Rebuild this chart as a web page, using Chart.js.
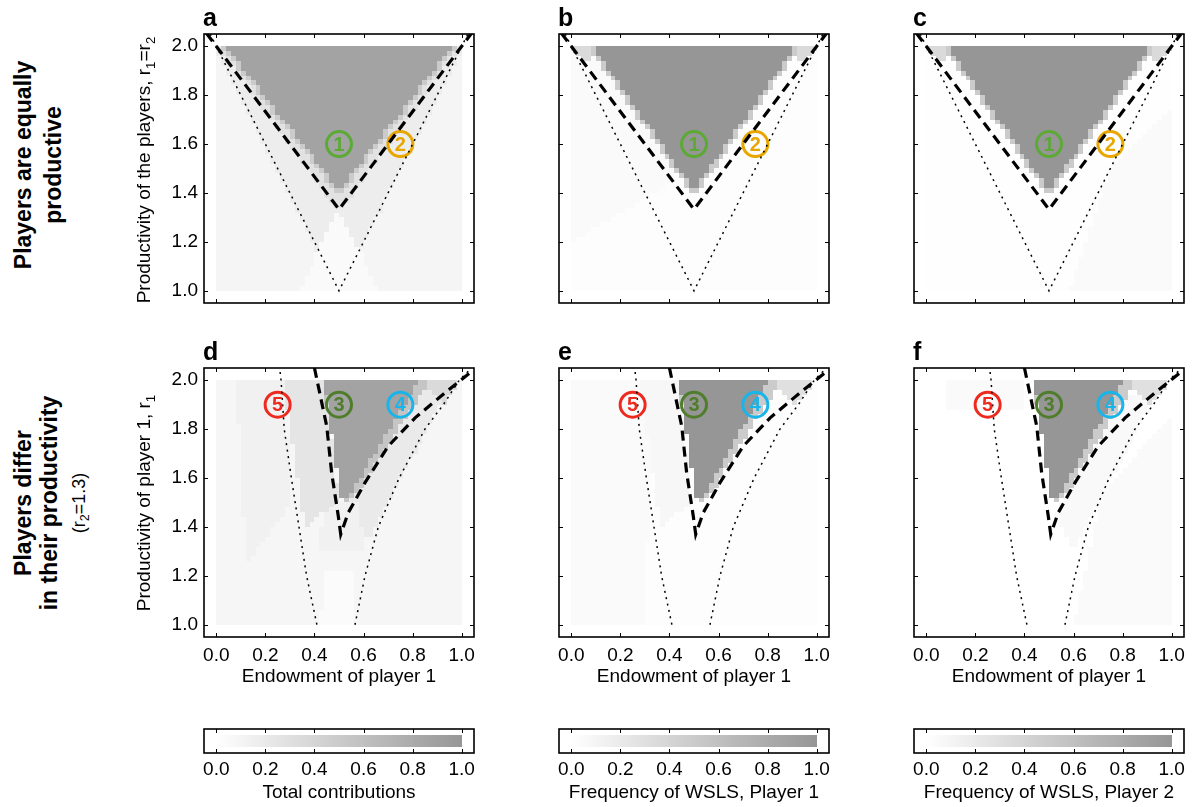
<!DOCTYPE html>
<html>
<head>
<meta charset="utf-8">
<script src="https://cdn.jsdelivr.net/npm/chart.js@4.4.0/dist/chart.umd.min.js"></script>
<style>
body { margin:0; background:#fff; width:1192px; height:807px; position:relative; overflow:hidden; font-family:"Liberation Sans", Arial, sans-serif; }
canvas { position:absolute; }
.lbl { position:absolute; white-space:nowrap; color:#000; }
.rot { transform:translate(-50%,-50%) rotate(-90deg); text-align:center; }
.letter { font-weight:bold; font-size:25px; line-height:25px; }
.head { font-weight:bold; font-size:23px; }
.sub { font-size:70%; position:relative; top:0.35em; }
.ytitle { font-size:19px; line-height:22px; }
</style>
</head>
<body>
<script>
// ---- data ----
var xTicks = [0.0, 0.2, 0.4, 0.6, 0.8, 1.0];
var yTicks = [1.0, 1.2, 1.4, 1.6, 1.8, 2.0];
var gridN = 50; // 50 x 50 cells: endowment 0..1, productivity 1..2

// boundary lines  [endowment of player 1, productivity]
var dashedEqual  = [[-0.04, 2.053], [0.5, 1.333], [1.04, 2.053]];
var dottedEqual  = [[-0.025, 2.05], [0.5, 1.0], [1.025, 2.05]];
var dashedDiffer = [[0.40, 2.05], [0.45, 1.812], [0.47, 1.622], [0.497, 1.445], [0.507, 1.37],
                    [0.538, 1.459], [0.606, 1.581], [0.701, 1.731], [0.81, 1.846], [0.932, 1.949], [1.045, 2.04]];
var dottedDifferL = [[0.257, 2.06], [0.264, 2.0], [0.277, 1.8], [0.306, 1.6], [0.337, 1.4], [0.368, 1.2], [0.41, 1.0]];
var dottedDifferR = [[0.565, 1.0], [0.606, 1.2], [0.66, 1.4], [0.745, 1.6], [0.85, 1.8], [0.925, 1.9], [0.99, 2.0], [1.035, 2.045]];

// circled region markers
var markTopLabel = ['1', '2'];
var markTopX = [0.5, 0.75];
var markTopY = [1.6, 1.6];
var markBotLabel = ['5', '3', '4'];
var markBotX = [0.25, 0.5, 0.75];
var markBotY = [1.9, 1.9, 1.9];

// heat map regions: [level 0..1, polygon], later ones paint over earlier ones
var full = [[0, 0.99], [1, 0.99], [1, 2.01], [0, 2.01]];
var zonesA = [
  [0.10, full],
  [0.17, [[-0.01, 2.01], [1.01, 2.01], [0.5, 0.99]]],
  [0.05, [[0.33, 0.99], [0.67, 0.99], [0.5, 1.33]]],
  [0.28, [[0.0, 2.01], [1.0, 2.01], [0.5, 1.32]]],
  [0.50, [[0.01, 2.01], [0.99, 2.01], [0.52, 1.41], [0.5, 1.39], [0.48, 1.41]]],
  [0.88, [[0.03, 2.01], [0.97, 2.01], [0.5, 1.41]]]
];
var zonesB = [
  [0.02, full],
  [0.05, [[0, 1.2], [0.42, 1.45], [0.42, 2.01], [0, 2.01]]],
  [0.35, [[-0.01, 2.01], [0.11, 2.01], [0.06, 1.93]]],
  [0.35, [[0.89, 2.01], [1.01, 2.01], [0.94, 1.93]]],
  [0.50, [[0.06, 2.01], [0.94, 2.01], [0.52, 1.41], [0.5, 1.385], [0.48, 1.41]]],
  [1.00, [[0.08, 2.01], [0.92, 2.01], [0.5, 1.41]]]
];
var zonesC = [
  [0.01, full],
  [0.05, [[0.58, 0.99], [1.0, 0.99], [1.0, 1.75], [0.75, 1.5]]],
  [0.35, [[-0.01, 2.01], [0.11, 2.01], [0.06, 1.93]]],
  [0.35, [[0.89, 2.01], [1.01, 2.01], [0.94, 1.93]]],
  [0.50, [[0.06, 2.01], [0.94, 2.01], [0.52, 1.41], [0.5, 1.385], [0.48, 1.41]]],
  [1.00, [[0.08, 2.01], [0.92, 2.01], [0.5, 1.41]]]
];
var zonesD = [
  [0.09, full],
  [0.13, [[0.08, 2.01], [0.27, 2.01], [0.31, 1.5], [0.12, 1.25]]],
  [0.20, [[0.52, 1.5], [0.62, 1.35], [0.97, 2.01], [0.86, 2.01]]],
  [0.13, [[0.44, 1.5], [0.58, 1.5], [0.6, 1.3], [0.42, 1.3]]],
  [0.04, [[0.42, 0.99], [0.56, 0.99], [0.55, 1.22], [0.45, 1.22]]],
  [0.25, [[0.27, 2.01], [0.44, 2.01], [0.5, 1.5], [0.36, 1.4]]],
  [0.35, [[0.83, 2.01], [1.0, 2.01], [0.93, 1.9]]],
  [0.55, [[0.43, 2.01], [0.88, 2.01], [0.56, 1.52], [0.53, 1.495], [0.515, 1.52]]],
  [0.88, [[0.44, 2.01], [0.83, 2.01], [0.54, 1.52], [0.505, 1.52]]]
];
var zonesE = [
  [0.015, full],
  [0.05, [[0, 0.99], [0.3, 0.99], [0.33, 2.01], [0, 2.01]]],
  [0.08, [[0.28, 2.01], [0.44, 2.01], [0.49, 1.5], [0.36, 1.4]]],
  [0.30, [[0.78, 2.01], [1.0, 2.01], [0.92, 1.9]]],
  [0.50, [[0.43, 2.01], [0.86, 2.01], [0.56, 1.52], [0.53, 1.495], [0.515, 1.52]]],
  [1.00, [[0.44, 2.01], [0.81, 2.01], [0.54, 1.52], [0.505, 1.52]]]
];
var zonesF = [
  [0.0, full],
  [0.05, [[0.08, 1.89], [0.4, 1.89], [0.4, 2.01], [0.08, 2.01]]],
  [0.045, [[0.6, 0.99], [1.0, 0.99], [1.0, 1.85], [0.72, 1.55]]],
  [0.06, [[0.52, 1.45], [0.6, 1.3], [0.92, 1.92], [0.8, 1.95]]],
  [0.30, [[0.78, 2.01], [1.0, 2.01], [0.92, 1.9]]],
  [0.50, [[0.43, 2.01], [0.86, 2.01], [0.56, 1.52], [0.53, 1.495], [0.515, 1.52]]],
  [1.00, [[0.44, 2.01], [0.81, 2.01], [0.54, 1.52], [0.505, 1.52]]]
];

// ---- layout ----
var colLeft = [204, 559, 914];
var rowTop = [34, 368];
var frameW = 270, frameH = 269;
var topColors = ['#5ca936', '#e8a600'];
var botColors = ['#ee2a1f', '#4f7d2b', '#17b5ea'];

Chart.defaults.font.family = '"Liberation Sans", Arial, sans-serif';
Chart.defaults.color = '#000';

function gray(v) {
  var g = Math.round(255 - 105 * v);
  return 'rgb(' + g + ',' + g + ',' + g + ')';
}
function inside(poly, x, y) {
  var c = false;
  for (var i = 0, j = poly.length - 1; i < poly.length; j = i++) {
    var xi = poly[i][0], yi = poly[i][1], xj = poly[j][0], yj = poly[j][1];
    if ((yi > y) != (yj > y) && x < (xj - xi) * (y - yi) / (yj - yi) + xi) c = !c;
  }
  return c;
}
function cellValue(zones, x, y) {
  var v = 0;
  zones.forEach(function (z) { if (inside(z[1], x, y)) v = z[0]; });
  return v;
}
function toXY(arr) { return arr.map(function (p) { return {x: p[0], y: p[1]}; }); }

function heatmap(zones) {
  return {
    id: 'heatmap',
    beforeDatasetsDraw: function (chart) {
      var ctx = chart.ctx, xs = chart.scales.x, ys = chart.scales.y;
      ctx.save();
      for (var i = 0; i < gridN; i++) {
        for (var j = 0; j < gridN; j++) {
          var x0 = i / gridN, x1 = (i + 1) / gridN, y0 = 1 + j / gridN, y1 = 1 + (j + 1) / gridN;
          var px0 = Math.round(xs.getPixelForValue(x0)), px1 = Math.round(xs.getPixelForValue(x1));
          var py0 = Math.round(ys.getPixelForValue(y1)), py1 = Math.round(ys.getPixelForValue(y0));
          ctx.fillStyle = gray(cellValue(zones, (x0 + x1) / 2, (y0 + y1) / 2));
          ctx.fillRect(px0, py0, px1 - px0, py1 - py0);
        }
      }
      ctx.restore();
    }
  };
}

function frame(withY) {
  return {
    id: 'frame',
    afterDatasetsDraw: function (chart) {
      var a = chart.chartArea, ctx = chart.ctx, xs = chart.scales.x, ys = chart.scales.y;
      ctx.save();
      ctx.strokeStyle = '#000';
      ctx.lineWidth = 1;
      ctx.beginPath();
      xTicks.forEach(function (v) {
        var p = Math.round(xs.getPixelForValue(v)) + 0.5;
        ctx.moveTo(p, a.bottom); ctx.lineTo(p, a.bottom - 4);
        ctx.moveTo(p, a.top); ctx.lineTo(p, a.top + 4);
      });
      if (withY) {
        yTicks.forEach(function (v) {
          var p = Math.round(ys.getPixelForValue(v)) + 0.5;
          ctx.moveTo(a.left, p); ctx.lineTo(a.left + 4, p);
          ctx.moveTo(a.right, p); ctx.lineTo(a.right - 4, p);
        });
      }
      ctx.stroke();
      ctx.lineWidth = 1.6;
      ctx.strokeRect(a.left, a.top, a.right - a.left, a.bottom - a.top);
      ctx.restore();
    }
  };
}

function markLabels(labels, colors) {
  return {
    id: 'markLabels',
    afterDatasetsDraw: function (chart) {
      var meta = chart.getDatasetMeta(chart.data.datasets.length - 1);
      var ctx = chart.ctx;
      ctx.save();
      ctx.font = 'bold 20px "Liberation Sans", Arial, sans-serif';
      ctx.textAlign = 'center';
      ctx.textBaseline = 'middle';
      meta.data.forEach(function (el, i) {
        ctx.fillStyle = colors[i];
        ctx.fillText(labels[i], el.x, el.y + 1);
      });
      ctx.restore();
    }
  };
}

function addCanvas(left, top, w, h) {
  var cv = document.createElement('canvas');
  cv.width = w; cv.height = h;
  cv.style.left = left + 'px'; cv.style.top = top + 'px';
  document.body.appendChild(cv);
  return cv;
}

function noPad(s) {
  s.paddingTop = 0; s.paddingBottom = 0; s.paddingLeft = 0; s.paddingRight = 0;
}

function panel(col, row, zones, dashed, dotted) {
  var showX = row === 1, showY = col === 0;
  var bottomH = showX ? 55 : 8;
  var cv = addCanvas(colLeft[col] - 56, rowTop[row] - 6, 56 + frameW + 8, 6 + frameH + bottomH);
  var labels = row === 0 ? markTopLabel : markBotLabel;
  var mx = row === 0 ? markTopX : markBotX;
  var my = row === 0 ? markTopY : markBotY;
  var colors = row === 0 ? topColors : botColors;
  var datasets = [];
  dotted.forEach(function (l) {
    datasets.push({data: toXY(l), showLine: true, borderColor: '#000', borderWidth: 1.5,
      borderDash: [2, 4.5], pointRadius: 0, tension: 0});
  });
  dashed.forEach(function (l) {
    datasets.push({data: toXY(l), showLine: true, borderColor: '#000', borderWidth: 3.2,
      borderDash: [10, 6], pointRadius: 0, tension: 0});
  });
  datasets.push({
    data: mx.map(function (x, i) { return {x: x, y: my[i]}; }),
    showLine: false, pointRadius: 12.5, pointBorderWidth: 3,
    pointBorderColor: colors, pointBackgroundColor: 'rgba(0,0,0,0)'
  });
  new Chart(cv, {
    type: 'scatter',
    data: {datasets: datasets},
    options: {
      responsive: false, animation: false, events: [],
      layout: {autoPadding: false, padding: {top: 6, right: 8, left: 0, bottom: 0}},
      plugins: {legend: {display: false}, tooltip: {enabled: false}},
      scales: {
        x: {
          type: 'linear', min: -0.05, max: 1.05,
          grid: {display: false, drawTicks: false}, border: {display: false},
          afterBuildTicks: function (s) { s.ticks = xTicks.map(function (v) { return {value: v}; }); },
          ticks: {display: showX, padding: 7, maxRotation: 0, autoSkip: false, font: {size: 19},
            callback: function (v) { return v.toFixed(1); }},
          title: {display: showX, text: 'Endowment of player 1', font: {size: 19}, padding: {top: 0, bottom: 4}},
          afterFit: function (s) { s.height = bottomH; noPad(s); }
        },
        y: {
          type: 'linear', min: 0.95, max: 2.05,
          grid: {display: false, drawTicks: false}, border: {display: false},
          afterBuildTicks: function (s) { s.ticks = yTicks.map(function (v) { return {value: v}; }); },
          ticks: {display: showY, padding: 6, autoSkip: false, font: {size: 19},
            callback: function (v) { return v.toFixed(1); }},
          afterFit: function (s) { s.width = 56; noPad(s); }
        }
      }
    },
    plugins: [heatmap(zones), frame(true), markLabels(labels, colors)]
  });
}

function colorbar(col, title) {
  var cv = addCanvas(colLeft[col] - 56, 725, 56 + frameW + 8, 82);
  new Chart(cv, {
    type: 'scatter',
    data: {datasets: []},
    options: {
      responsive: false, animation: false, events: [],
      layout: {autoPadding: false, padding: {top: 4, right: 8, left: 56, bottom: 0}},
      plugins: {legend: {display: false}, tooltip: {enabled: false}},
      scales: {
        x: {
          type: 'linear', min: -0.05, max: 1.05,
          grid: {display: false, drawTicks: false}, border: {display: false},
          afterBuildTicks: function (s) { s.ticks = xTicks.map(function (v) { return {value: v}; }); },
          ticks: {padding: 5, maxRotation: 0, autoSkip: false, font: {size: 19},
            callback: function (v) { return v.toFixed(1); }},
          title: {display: true, text: title, font: {size: 19}, padding: {top: 0, bottom: 3}},
          afterFit: function (s) { s.height = 54; noPad(s); }
        },
        y: {type: 'linear', min: -0.45, max: 1.45, display: false}
      }
    },
    plugins: [{
      id: 'ramp',
      beforeDatasetsDraw: function (chart) {
        var ctx = chart.ctx, xs = chart.scales.x, ys = chart.scales.y;
        var steps = 100;
        for (var i = 0; i < steps; i++) {
          var x0 = i / steps, x1 = (i + 1) / steps;
          var px0 = Math.round(xs.getPixelForValue(x0)), px1 = Math.round(xs.getPixelForValue(x1));
          var py0 = Math.round(ys.getPixelForValue(1)), py1 = Math.round(ys.getPixelForValue(0));
          ctx.fillStyle = gray((x0 + x1) / 2);
          ctx.fillRect(px0, py0, px1 - px0, py1 - py0);
        }
      }
    }, frame(false)]
  });
}

panel(0, 0, zonesA, [dashedEqual], [dottedEqual]);
panel(1, 0, zonesB, [dashedEqual], [dottedEqual]);
panel(2, 0, zonesC, [dashedEqual], [dottedEqual]);
panel(0, 1, zonesD, [dashedDiffer], [dottedDifferL, dottedDifferR]);
panel(1, 1, zonesE, [dashedDiffer], [dottedDifferL, dottedDifferR]);
panel(2, 1, zonesF, [dashedDiffer], [dottedDifferL, dottedDifferR]);
colorbar(0, 'Total contributions');
colorbar(1, 'Frequency of WSLS, Player 1');
colorbar(2, 'Frequency of WSLS, Player 2');
</script>

<div class="lbl letter" style="left:203px;top:5px;">a</div>
<div class="lbl letter" style="left:558px;top:5px;">b</div>
<div class="lbl letter" style="left:913px;top:5px;">c</div>
<div class="lbl letter" style="left:203px;top:339px;">d</div>
<div class="lbl letter" style="left:558px;top:339px;">e</div>
<div class="lbl letter" style="left:913px;top:339px;">f</div>

<div class="lbl rot head" style="left:38px;top:165px;line-height:30px;">Players are equally<br>productive</div>
<div class="lbl rot head" style="left:54px;top:503px;">
  <div style="line-height:26px;">Players differ</div>
  <div style="line-height:26px;">in their productivity</div>
  <div style="font-weight:normal;font-size:18px;line-height:35px;">(r<span class="sub">2</span>=1.3)</div>
</div>

<div class="lbl rot ytitle" style="left:145px;top:170px;">Productivity of the players, r<span class="sub">1</span>=r<span class="sub">2</span></div>
<div class="lbl rot ytitle" style="left:145px;top:503px;">Productivity of player 1, r<span class="sub">1</span></div>
</body>
</html>
